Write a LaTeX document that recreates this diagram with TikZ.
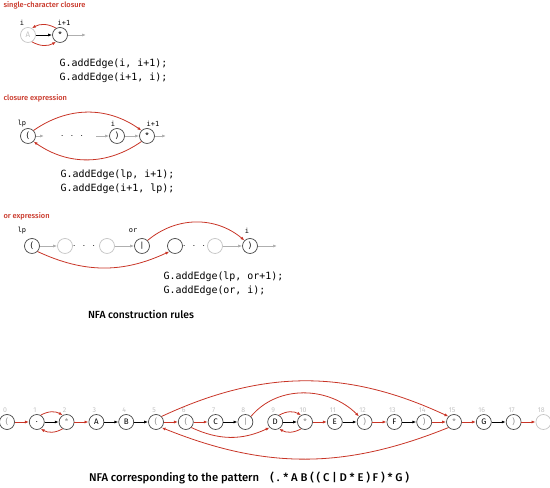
\documentclass[tikz,border=0pt]{standalone}
\usepackage{fontspec}
\setsansfont{Fira Sans}
\setmonofont{DejaVu Sans Mono}
\newfontfamily\medsans{Fira Sans Medium}
\usetikzlibrary{arrows.meta,positioning,calc}
\definecolor{nfared}{RGB}{200,52,38}
\definecolor{epsgray}{RGB}{175,175,175}
\definecolor{ringgray}{RGB}{70,70,70}
\definecolor{palegray}{RGB}{195,195,195}
\definecolor{metagray}{RGB}{140,140,140}
\newcommand{\opn}{(}
\newcommand{\cls}{)}
\newcommand{\threedots}{$\cdot$\hspace{7bp}$\cdot$\hspace{7bp}$\cdot$}
\tikzset{
  state/.style={circle,draw=ringgray,line width=0.7pt,minimum size=15bp,inner sep=0pt,
    font=\sffamily\fontsize{8}{8}\selectfont},
  ghost/.style={state,draw=palegray,text=palegray},
  idx/.style={font=\sffamily\fontsize{7}{7}\selectfont,text=palegray},
  var/.style={font=\ttfamily\fontsize{7}{7}\selectfont},
  code/.style={font=\ttfamily\fontsize{10}{14}\selectfont,align=left,anchor=west},
  title/.style={font=\medsans\fontsize{7.5}{8}\selectfont,text=nfared,anchor=west},
  match/.style={-{Latex[length=4bp,width=3bp]},line width=0.8pt,black},
  eps/.style={-{Latex[length=4bp,width=3bp]},line width=0.8pt,nfared},
  faint/.style={-{Latex[length=4bp,width=3bp]},line width=0.7pt,epsgray},
}

\begin{document}
\begin{tikzpicture}[x=1bp,y=1bp]
  \useasboundingbox (0,0) rectangle (550,488);

  % single-character closure
  \node[title] (t1) at (0,483) {single-character closure};
  \node[ghost] (sA) at (28,453) {A};
  \node[state] (sStar) at (60,453) {*};
  \coordinate (sOut) at (86,453);
  \node[var] (sI) at (22,465) {i};
  \node[var] (sI1) at (64,465) {i+1};
  \draw[match] (sA) -- (sStar);
  \draw[faint] (sStar) -- (sOut);
  \draw[eps] (sStar.120) to[out=150,in=30] (sA.60);
  \draw[eps] (sA.-60) to[out=-30,in=-150] (sStar.-120);
  \node[code] (c1) at (56,417) {G.addEdge(i, i+1);\\G.addEdge(i+1, i);};

  % closure expression
  \node[title] (t2) at (0,390) {closure expression};
  \node[state] (cL) at (28,352) {(};
  \node (cDots) at (72,352) {\threedots};
  \node[state] (cR) at (117,352) {)};
  \node[state] (cStar) at (147,352) {*};
  \coordinate (cA) at (44,352);
  \coordinate (cB) at (96,352);
  \coordinate (cOut) at (166,352);
  \node[var] (cLp) at (22,364) {lp};
  \node[var] (cI) at (113,364) {i};
  \node[var] (cI1) at (153,364) {i+1};
  \draw[faint] (cL) -- (cA);
  \draw[faint] (cB) -- (cR);
  \draw[faint] (cR) -- (cStar);
  \draw[faint] (cStar) -- (cOut);
  \draw[eps] (cL.north east) to[out=35,in=145] (cStar.north west);
  \draw[eps] (cStar.south west) to[out=-145,in=-35] (cL.south east);
  \node[code] (c2) at (57,306.5) {G.addEdge(lp, i+1);\\G.addEdge(i+1, lp);};

  % or expression
  \node[title] (t3) at (0,272) {or expression};
  \node[state] (oL) at (32,242) {(};
  \node[ghost] (oG1) at (65,242) {};
  \node (oDots1) at (84,242) {\threedots};
  \node[ghost] (oG2) at (107,242) {};
  \node[state] (oOr) at (142,242) {|};
  \node[state] (oB) at (175,242) {};
  \node (oDots2) at (194,242) {\threedots};
  \node[ghost] (oG3) at (215,242) {};
  \node[state] (oR) at (250,242) {)};
  \coordinate (oOut) at (277,242);
  \node[var] (oLp) at (22,257) {lp};
  \node[var] (oOrLbl) at (133,257) {or};
  \node[var] (oI) at (247,257) {i};
  \draw[faint] (oL) -- (oG1);
  \draw[faint] (oG2) -- (oOr);
  \draw[faint] (oG3) -- (oR);
  \draw[faint] (oR) -- (oOut);
  \draw[eps] (oOr.north east) to[out=40,in=140] (oR.north west);
  \draw[eps] (oL.south east) to[out=-25,in=-155] (oB.south west);
  \node[code] (c3) at (160,204.5) {G.addEdge(lp, or+1);\\G.addEdge(or, i);};

  \node[font=\medsans\fontsize{10.4}{11}\selectfont] (rules) at (141,174) {NFA construction rules};

  % NFA for ( . * A B ( ( C | D * E ) F ) * G )
  \foreach \ch/\tone [count=\i from 0] in {\opn/metagray,./black,*/metagray,A/black,B/black,
      \opn/metagray,\opn/metagray,C/black,|/metagray,D/black,*/metagray,E/black,\cls/metagray,
      F/black,\cls/metagray,*/metagray,G/black,\cls/metagray} {
    \pgfmathsetmacro{\xx}{7+29.8*\i}
    \node[state,text=\tone] (q\i) at (\xx,66) {\ch};
    \node[idx] (k\i) at (\xx-2,78) {\i};
  }
  \node[ghost] (q18) at (543.4,66) {};
  \node[idx] (k18) at (541.4,78) {18};

  \foreach \a/\b in {1/2,3/4,4/5,7/8,9/10,11/12,13/14,16/17}
    \draw[match] (q\a) -- (q\b);
  \foreach \a/\b in {0/1,2/3,5/6,6/7,10/11,12/13,14/15,15/16,17/18}
    \draw[eps] (q\a) -- (q\b);
  \foreach \a/\b in {1/2,9/10} {
    \draw[eps] (q\a.60) to[out=30,in=150] (q\b.120);
    \draw[eps] (q\b.-120) to[out=-150,in=-30] (q\a.-60);
  }
  \draw[eps] (q5.north east) to[out=25,in=155] (q15.north west);
  \draw[eps] (q15.south west) to[out=-158,in=-22] (q5.south east);
  \draw[eps] (q8.north east) to[out=50,in=135] (q12.north west);
  \draw[eps] (q6.south east) to[out=-25,in=-155] (q9.south west);

  \node[font=\medsans\fontsize{11.3}{12}\selectfont] (caption) at (249,10)
    {NFA corresponding to the pattern\quad( . * A B ( ( C | D * E ) F ) * G )};
\end{tikzpicture}
\end{document}
